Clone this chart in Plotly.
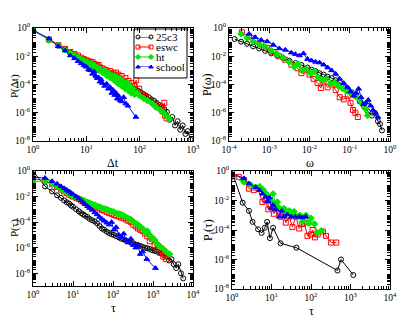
import numpy as np
import plotly.graph_objects as go

# values; x in data units (or log10 where noted), y always log10

# --- panel a: P(dt) vs dt ---
dt_x_25c3 = [1, 2, 3, 4, 5, 6, 7, 8, 9, 10, 12, 14, 16, 18, 20, 23, 26, 30, 34, 38, 43, 48, 54, 60,
             67, 75, 84, 94, 105, 118, 132, 148, 165, 185, 207, 232, 260, 290, 325, 365, 410, 460,
             515, 575, 640, 720, 800, 900]
dt_y_25c3 = [-0.15, -0.85, -1.25, -1.52, -1.75, -1.93, -2.08, -2.2, -2.32, -2.42, -2.6, -2.75, -2.86,
             -2.98, -3.05, -3.2, -3.3, -3.42, -3.55, -3.62, -3.78, -3.85, -3.98, -4.05, -4.15, -4.25,
             -4.32, -4.45, -4.55, -4.68, -4.8, -4.9, -5.05, -5.15, -5.3, -5.45, -5.55, -5.75, -5.95,
             -6.5, -6.3, -6.9, -6.6, -7.2, -6.9, -7.5, -7.3, -7.9]
dt_x_eswc = [1, 2, 3, 4, 5, 6, 7, 8, 9, 10, 11, 12, 13, 14, 15, 16, 17, 18, 20, 22, 24, 26, 28, 30,
             32, 34, 36, 38, 40, 43, 46, 50, 54, 58, 62, 66, 70, 75, 80, 86, 92, 98, 110, 130, 160,
             200, 240, 270, 290, 300, 320]
dt_y_eswc = [-0.15, -0.82, -1.22, -1.48, -1.7, -1.85, -1.95, -2.1, -2.2, -2.28, -2.35, -2.45, -2.4,
             -2.55, -2.6, -2.7, -2.62, -2.8, -2.85, -2.95, -3.0, -3.15, -3.05, -3.25, -3.2, -3.35,
             -3.15, -3.45, -3.3, -3.6, -3.4, -3.8, -3.55, -4.0, -3.75, -4.2, -3.9, -4.4, -4.1, -3.7,
             -4.6, -4.3, -4.7, -4.9, -5.1, -5.4, -5.6, -5.9, -5.3, -6.2, -6.4]
dt_x_ht = [1, 2, 3, 4, 5, 6, 7, 8, 9, 10, 11, 12, 13, 14, 15, 16, 17, 18, 20, 22, 24, 26, 28, 30,
           32, 34, 36, 38, 40, 43, 46, 50, 54, 58, 62, 66, 70, 75, 80, 90, 100, 120, 140, 170, 200,
           240, 280, 330, 360]
dt_y_ht = [-0.15, -0.85, -1.25, -1.55, -1.78, -1.95, -2.1, -2.2, -2.35, -2.4, -2.55, -2.5, -2.7,
           -2.65, -2.85, -2.8, -3.0, -2.9, -3.15, -3.05, -3.35, -3.2, -3.5, -3.35, -3.65, -3.4, -3.8,
           -3.5, -3.95, -3.6, -4.1, -3.8, -4.3, -3.9, -4.45, -4.1, -4.6, -4.3, -4.7, -4.6, -4.8, -5.0,
           -5.15, -5.35, -5.6, -5.8, -6.0, -6.3, -6.45]
dt_x_school = [1, 2, 3, 4, 5, 6, 7, 8, 9, 10, 11, 12, 13, 14, 15, 16, 17, 18, 19, 20, 22, 24, 26,
               28, 30, 32, 34, 36, 38, 40, 43, 46, 50, 55, 60, 85]
dt_y_school = [-0.15, -0.75, -1.3, -1.6, -1.95, -2.15, -2.35, -2.5, -2.65, -2.75, -2.95, -3.0,
               -3.25, -3.1, -3.4, -3.55, -3.5, -3.8, -3.65, -3.9, -4.1, -3.95, -4.3, -4.2, -4.6,
               -4.4, -4.75, -4.6, -5.0, -4.8, -5.1, -5.2, -4.9, -5.35, -5.5, -6.3]

# --- panel b: P(w) vs w (x stored as log10) ---
w_lx_25c3 = [-3.86, -3.7, -3.55, -3.4, -3.25, -3.1, -2.95, -2.8, -2.65, -2.5, -2.35, -2.2, -2.05,
             -1.95, -1.85, -1.75, -1.65, -1.55, -1.45, -1.35, -1.25, -1.15, -1.05, -0.95, -0.85,
             -0.75, -0.65, -0.55, -0.45, -0.38, -0.3, -0.25, -0.2]
w_y_25c3 = [-0.78, -0.97, -1.12, -1.3, -1.45, -1.62, -1.8, -1.97, -2.15, -2.32, -2.48, -2.62, -2.8,
            -2.95, -3.05, -3.2, -3.3, -3.45, -3.55, -3.7, -3.85, -4.05, -4.3, -4.55, -4.85, -5.2,
            -5.5, -5.9, -6.2, -6.0, -6.6, -6.8, -7.25]
w_lx_eswc = [-3.68, -3.5, -3.35, -3.2, -3.05, -2.9, -2.75, -2.6, -2.45, -2.3, -2.2, -2.1, -2.0,
             -1.9, -1.8, -1.72, -1.65, -1.55, -1.45, -1.35, -1.25, -1.15, -1.05, -0.98, -0.92,
             -0.86, -0.8]
w_y_eswc = [-0.3, -0.6, -0.9, -1.15, -1.4, -1.7, -2.0, -2.25, -2.6, -2.85, -3.2, -3.0, -3.3, -3.6,
            -3.9, -4.25, -3.8, -4.2, -4.0, -4.4, -4.9, -5.05, -4.8, -5.3, -5.8, -6.0, -6.3]
w_lx_ht = [-3.7, -3.55, -3.4, -3.25, -3.1, -2.95, -2.8, -2.65, -2.5, -2.38, -2.28, -2.18, -2.08,
           -1.98, -1.88, -1.78, -1.68, -1.58, -1.48, -1.38, -1.28, -1.18, -1.08, -0.98, -0.88,
           -0.78, -0.7, -0.62, -0.56]
w_y_ht = [-0.42, -0.7, -0.95, -1.15, -1.35, -1.6, -1.85, -2.1, -2.4, -2.75, -2.55, -3.0, -2.9, -3.2,
          -3.1, -3.5, -3.7, -3.6, -3.95, -3.85, -4.1, -4.3, -4.45, -4.6, -4.8, -5.0, -5.3, -5.7, -6.2]
w_lx_school = [-3.5, -3.35, -3.2, -3.05, -2.9, -2.75, -2.6, -2.45, -2.35, -2.25, -2.15, -2.05,
               -1.95, -1.85, -1.75, -1.65, -1.55, -1.45, -1.35, -1.25, -1.15, -1.05, -0.98, -0.9,
               -0.84, -0.78, -0.72, -0.66, -0.6, -0.54, -0.48, -0.42, -0.36, -0.3]
w_y_school = [-0.42, -0.65, -0.85, -0.95, -1.2, -1.45, -1.55, -1.75, -1.85, -1.95, -1.8, -2.2,
              -2.3, -2.4, -2.45, -2.6, -2.8, -3.0, -3.25, -3.6, -3.9, -4.2, -4.5, -4.8, -4.6, -4.3,
              -4.9, -5.4, -5.3, -5.1, -5.5, -5.8, -6.0, -6.3]

# --- panel c: P(tau) vs tau ---
tau_x_25c3 = [1, 2, 3, 4, 5, 6, 7, 8, 9, 10, 12, 14, 16, 18, 20, 23, 26, 30, 35, 40, 46, 53, 60,
              70, 80, 92, 105, 120, 140, 160, 185, 210, 240, 280, 320, 370, 420, 480, 550, 630, 720,
              830, 950, 1100, 1250, 1450, 1650, 1900, 2200, 2500, 2900, 3300, 3800, 4300, 5000, 5700]
tau_y_25c3 = [0.0, -1.2, -1.6, -1.9, -2.1, -2.3, -2.45, -2.55, -2.7, -2.8, -3.0, -3.15, -3.3, -3.4,
              -3.5, -3.6, -3.75, -3.85, -3.95, -4.1, -4.3, -4.5, -4.6, -4.75, -4.85, -4.95, -5.0,
              -5.1, -5.2, -5.3, -5.35, -5.45, -5.5, -5.6, -5.65, -5.75, -5.8, -5.85, -5.95, -6.0,
              -6.05, -6.1, -6.2, -6.25, -6.3, -6.4, -6.45, -6.6, -6.7, -7.0, -6.9, -7.3, -7.6, -7.3,
              -8.0, -8.4]
tau_x_eswc = [1, 2, 3, 4, 5, 6, 7, 8, 9, 10, 12, 14, 16, 18, 20, 23, 26, 30, 35, 40, 46, 53, 60,
              70, 80, 92, 105, 120, 140, 160, 185, 210, 240, 280, 320, 370, 420, 480, 550, 630, 720,
              830, 950, 1100, 1300, 1500, 1800, 2100]
tau_y_eswc = [-0.6, -0.75, -1.05, -1.25, -1.45, -1.6, -1.72, -1.85, -1.92, -2.0, -2.1, -2.2, -2.3,
              -2.38, -2.45, -2.55, -2.62, -2.7, -2.78, -2.85, -2.95, -3.05, -3.1, -3.2, -3.3, -3.35,
              -3.45, -3.5, -3.55, -3.65, -3.7, -3.8, -3.9, -4.0, -4.2, -4.35, -4.5, -4.6, -4.7,
              -4.9, -5.1, -5.5, -5.3, -5.8, -6.1, -6.4, -6.7, -6.9]
tau_x_ht = [1, 2, 3, 4, 5, 6, 7, 8, 9, 10, 12, 14, 16, 18, 20, 23, 26, 30, 35, 40, 46, 53, 60, 70,
            80, 92, 105, 120, 140, 160, 185, 210, 240, 280, 320, 370, 420, 480, 550, 630, 720, 830,
            950, 1100, 1300, 1500, 1800, 2100, 2600]
tau_y_ht = [-0.85, -0.75, -1.0, -1.2, -1.4, -1.55, -1.7, -1.8, -1.88, -1.95, -2.05, -2.15, -2.22,
            -2.3, -2.35, -2.45, -2.5, -2.6, -2.65, -2.75, -2.8, -2.9, -2.95, -3.0, -3.1, -3.15,
            -3.2, -3.3, -3.35, -3.4, -3.5, -3.6, -3.7, -3.8, -3.95, -4.1, -4.2, -4.35, -4.5, -4.8,
            -4.7, -5.0, -5.3, -5.4, -5.7, -5.9, -6.1, -6.3, -6.5]
tau_x_school = [1, 2, 3, 4, 5, 6, 7, 8, 9, 10, 12, 14, 16, 18, 20, 23, 26, 30, 35, 40, 46, 53, 60,
                70, 80, 92, 105, 120, 140, 160, 185, 210, 240, 280, 320, 370, 420, 480, 550, 700,
                1150]
tau_y_school = [-0.47, -0.55, -0.8, -1.0, -1.2, -1.35, -1.48, -1.6, -1.72, -1.82, -2.0, -2.15,
                -2.3, -2.45, -2.6, -2.75, -2.9, -3.05, -3.25, -3.4, -3.6, -3.75, -3.9, -4.05, -4.2,
                -4.0, -4.6, -4.4, -5.0, -5.2, -4.9, -5.4, -5.6, -5.3, -5.8, -6.0, -5.8, -6.5, -6.3,
                -6.9, -7.6]

# --- panel d: P_i(tau) vs tau (x stored as log10) ---
ti_lx_25c3 = [0, 0.27, 0.43, 0.52, 0.66, 0.75, 0.83, 0.89, 0.96, 1.04, 1.23, 1.63, 2.67, 2.76, 3.07]
ti_y_25c3 = [-0.05, -2.15, -2.7, -3.45, -3.95, -4.2, -3.85, -3.45, -4.55, -3.85, -4.9, -5.2, -6.75,
             -6.0, -7.05]
ti_lx_eswc = [0, 0.17, 0.3, 0.43, 0.55, 0.65, 0.77, 0.85, 0.92, 0.98, 1.06, 1.15, 1.23, 1.3, 1.36,
              1.45, 1.53, 1.62, 1.7, 1.78, 1.83, 1.91, 2.0, 2.04, 2.1, 2.17, 2.3, 2.38, 2.51, 2.64]
ti_y_eswc = [-0.3, -0.4, -0.6, -1.2, -1.3, -1.15, -2.1, -2.0, -2.6, -2.35, -2.9, -2.5, -3.1, -2.9,
             -3.5, -3.1, -3.8, -3.1, -3.9, -3.6, -3.5, -4.4, -4.3, -4.0, -4.5, -4.3, -4.1, -4.4,
             -4.85, -4.85]
ti_lx_ht = [0, 0.3, 0.48, 0.6, 0.7, 0.78, 0.85, 0.9, 0.95, 1.0, 1.04, 1.11, 1.15, 1.2, 1.26, 1.32,
            1.38, 1.45, 1.51, 1.57, 1.66, 1.72, 1.79, 1.87, 1.95, 2.0, 2.09, 2.17, 2.26]
ti_y_ht = [-0.4, -0.75, -0.95, -1.1, -1.05, -1.25, -1.5, -1.7, -1.9, -2.05, -1.55, -2.3, -2.1,
           -2.55, -2.6, -2.55, -2.9, -2.7, -2.95, -2.75, -3.1, -3.0, -3.4, -3.0, -3.55, -3.2, -3.6,
           -4.2, -4.05]
ti_lx_school = [0, 0.3, 0.43, 0.6, 0.7, 0.77, 0.85, 0.9, 0.95, 1.0, 1.04, 1.11, 1.19, 1.26, 1.32,
                1.4, 1.5, 1.6, 1.7, 1.78, 1.87]
ti_y_school = [-0.16, -0.5, -0.85, -1.1, -1.3, -1.55, -1.75, -2.05, -1.8, -2.55, -2.3, -2.6, -3.1,
               -2.7, -3.1, -2.95, -3.1, -3.1, -3.1, -3.15, -3.1]

names = ["25c3", "eswc", "ht", "school"]
styles = {
    "25c3": dict(color="black", symbol="circle-open"),
    "eswc": dict(color="red", symbol="square-open"),
    "ht": dict(color="#00e600", symbol="diamond"),
    "school": dict(color="blue", symbol="triangle-up"),
}

panels = [
    ("x", "y", [(dt_x_25c3, dt_y_25c3), (dt_x_eswc, dt_y_eswc), (dt_x_ht, dt_y_ht), (dt_x_school, dt_y_school)], False),
    ("x2", "y2", [(w_lx_25c3, w_y_25c3), (w_lx_eswc, w_y_eswc), (w_lx_ht, w_y_ht), (w_lx_school, w_y_school)], True),
    ("x3", "y3", [(tau_x_25c3, tau_y_25c3), (tau_x_eswc, tau_y_eswc), (tau_x_ht, tau_y_ht), (tau_x_school, tau_y_school)], False),
    ("x4", "y4", [(ti_lx_25c3, ti_y_25c3), (ti_lx_eswc, ti_y_eswc), (ti_lx_ht, ti_y_ht), (ti_lx_school, ti_y_school)], True),
]

# the page body has an 8px margin, so the figure is drawn 8px in from the window corner;
# positions below are given in window pixels and converted to paper fractions
OFF = 8
W, H = 415 - OFF, 321 - OFF
FONT = "Liberation Serif"


def px(x):
    return (x - OFF) / W


def py(y):
    return 1 - (y - OFF) / H


def marker(name, size=5):
    st = styles[name]
    return dict(symbol=st["symbol"], size=size, color=st["color"],
                line=dict(color=st["color"], width=1))


fig = go.Figure()
for p, (xa, ya, series, x_is_log) in enumerate(panels):
    for name, (xs, ys) in zip(names, series):
        xs = np.power(10.0, xs) if x_is_log else np.array(xs, dtype=float)
        fig.add_trace(go.Scatter(
            x=xs, y=np.power(10.0, ys), mode="lines+markers", name=name,
            xaxis=xa, yaxis=ya, showlegend=False,
            line=dict(color=styles[name]["color"], width=1),
            marker=marker(name),
        ))

# legend samples (xmgrace style: short line with a symbol at each end) on a hidden axis pair
for i, name in enumerate(names):
    fig.add_trace(go.Scatter(
        x=[0, 1], y=[i, i], mode="lines+markers", xaxis="x5", yaxis="y5", showlegend=False,
        cliponaxis=False, hoverinfo="skip",
        line=dict(color=styles[name]["color"], width=1), marker=marker(name, 4),
    ))


def log_axis(lo, hi, every, domain, anchor):
    vals = [10.0 ** k for k in range(lo, hi + 1) if k % every == 0]
    text = ["10<sup>%d</sup>" % k for k in range(lo, hi + 1) if k % every == 0]
    return dict(
        type="log", range=[lo, hi], domain=domain, anchor=anchor, automargin=False,
        tickmode="array", tickvals=vals, ticktext=text,
        ticks="inside", ticklen=5, tickcolor="black", tickwidth=1,
        minor=dict(ticks="inside", ticklen=3, tickcolor="black", dtick="D1", showgrid=False),
        showline=True, linecolor="black", linewidth=1, mirror="allticks",
        showgrid=False, zeroline=False,
        tickfont=dict(family=FONT, size=9.5, color="black"),
    )


# panel boxes in window pixels: left, right, top, bottom
boxes = [(33, 193, 28, 141), (229, 390, 28, 141), (33, 193, 171, 286), (232, 390, 171, 289)]
xr = [(0, 3), (-4, 0), (0, 4), (0, 4)]
yr = [(-8, 0), (-8, 0), (-9, 0), (-8, 0)]

layout = dict(
    width=W, height=H, margin=dict(l=0, r=0, t=0, b=0),
    paper_bgcolor="white", plot_bgcolor="white",
    font=dict(family=FONT, color="black"), showlegend=False,
)
for i, (l, r, t, b) in enumerate(boxes):
    sx = "" if i == 0 else str(i + 1)
    layout["xaxis" + sx] = log_axis(xr[i][0], xr[i][1], 1, [px(l), px(r)], "y" + sx)
    layout["yaxis" + sx] = log_axis(yr[i][0], yr[i][1], 2, [py(b), py(t)], "x" + sx)

# legend box: left 134, right 187, top 29, bottom 78; rows 10px apart from y=37
leg_rows = [37, 47, 57, 67]
layout["xaxis5"] = dict(domain=[px(138), px(151)], range=[0, 1], anchor="y5", visible=False)
layout["yaxis5"] = dict(domain=[py(leg_rows[-1]), py(leg_rows[0])], range=[3, 0], anchor="x5",
                        visible=False)
fig.update_layout(**layout)

fig.add_shape(type="rect", xref="paper", yref="paper", x0=px(134), x1=px(187), y0=py(78),
              y1=py(29), line=dict(color="black", width=1), fillcolor="white", layer="below")
for name, ry in zip(names, leg_rows):
    fig.add_annotation(text=name, x=px(154), y=py(ry), xref="paper", yref="paper",
                       xanchor="left", yanchor="middle", showarrow=False, height=10,
                       font=dict(family=FONT, size=11, color="black"))

titles = [
    ("\u0394t", 113, 163, 0, 12), ("\u03c9", 310, 163, 0, 12),
    ("\u03c4", 113, 308, 0, 12), ("\u03c4", 311, 311, 0, 12),
    ("P(\u0394t)", 14, 86, -90, 11), ("P(\u03c9)", 207, 85, -90, 12),
    ("P(\u03c4)", 14, 228, -90, 11), ("P<sub>i</sub>(\u03c4)", 209, 230, -90, 12),
]
for text, tx, ty, ang, size in titles:
    fig.add_annotation(text=text, x=px(tx), y=py(ty), xref="paper", yref="paper",
                       xanchor="center", yanchor="middle", showarrow=False, textangle=ang,
                       font=dict(family=FONT, size=size, color="black"))

fig.write_html("out.html")
